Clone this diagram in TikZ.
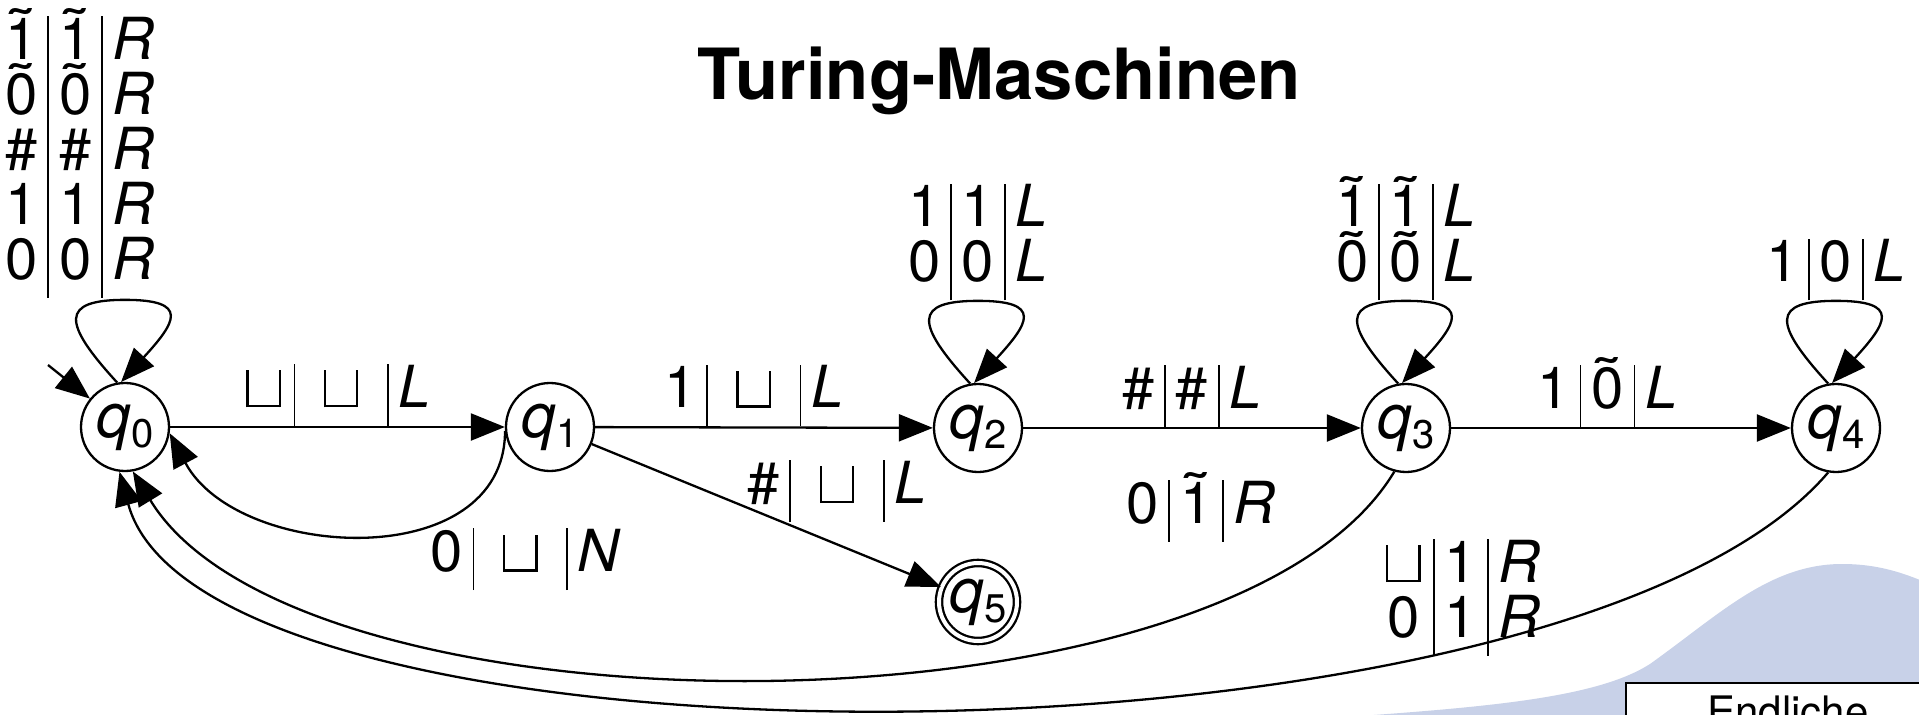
\documentclass[tikz,border=0pt]{standalone}
\usepackage{fontspec}
\usepackage{graphicx}
\setmainfont{TeX Gyre Heros}
\usetikzlibrary{arrows.meta}
\definecolor{wavecol}{RGB}{200,209,232}
\newsavebox\tlbox
\newcommand\tl[1]{\sbox\tlbox{#1}\rlap{\hbox to\wd\tlbox{\hss\smash{\raisebox{0.17em}{\scalebox{1.3}[1]{\char"02DC}}}\hss}}\usebox\tlbox}
\newcommand\blk{\kern0.04em\rule{0.04em}{0.64em}\rule{0.52em}{0.04em}\rule{0.04em}{0.64em}\kern0.04em}
\newcommand\mblk{\kern0.28em\blk\kern0.28em}
\newcommand\qq[1]{\textit{q}\raisebox{-5pt}{\fontsize{20}{20}\selectfont #1}}
\newcommand\lblfont{\fontsize{29}{30.9}\selectfont}
\newcommand\rs{\\[-3.4pt]}
\newcommand\selfloop[1]{%
  \coordinate (#1top) at ([yshift=41pt]#1.north);
  \draw[edge] (#1.100) .. controls +(-55,60) and +(-65,0) .. (#1top) .. controls +(65,0) and +(55,60) .. (#1.95);}
\setlength\tabcolsep{5.4pt}
\setlength\arrayrulewidth{0.8pt}
\begin{document}
\begin{tikzpicture}[x=0.5pt,y=0.5pt,
  state/.style={circle,draw,line width=1.15pt,minimum size=44pt,inner sep=0pt,font=\fontsize{31}{31}\selectfont},
  accept/.style={state,double,double distance=2pt,minimum size=39pt},
  edge/.style={line width=1.15pt,-{Triangle[length=17pt,width=13.5pt]}},
  lbl/.style={inner sep=0pt,font=\lblfont},
]
\useasboundingbox (0,0) rectangle (1919,714);
\fill[white] (0,0) rectangle (1919,714);
\clip (0,0) rectangle (1919,714);

% background wave and box
\fill[wavecol] (1360,-2) .. controls (1500,8) and (1600,18) .. (1650,50)
  .. controls (1720,100) and (1770,150) .. (1842,150)
  .. controls (1880,150) and (1905,140) .. (1925,132) -- (1925,-5) -- cycle;
\draw[line width=1.15pt,fill=white] (1626,31) rectangle (1940,-30);
\node[font=\fontsize{21}{24}\selectfont,anchor=base] (endl) at (1788,-12) {Endliche};

% title
\node[font=\fontsize{35.3}{40}\selectfont\bfseries,anchor=base] (title) at (999,614) {Turing-Maschinen};

% states
\node[state] (q0) at (125,287) {\qq{0}};
\node[state] (q1) at (550,287) {\qq{1}};
\node[state] (q2) at (978,286) {\qq{2}};
\node[state] (q3) at (1406,286) {\qq{3}};
\node[state] (q4) at (1836,286) {\qq{4}};
\node[accept] (q5) at (978,112) {\qq{5}};

% initial arrow
\coordinate (init) at (48,349);
\draw[edge] (init) -- (q0.141);

% loops
\selfloop{q0}
\selfloop{q2}
\selfloop{q3}
\selfloop{q4}
\node[lbl,anchor=south east] (lq0) at (166,416) {\begin{tabular}{c|c|c}\tl{1}&\tl{1}&\textit{R}\rs \tl{0}&\tl{0}&\textit{R}\rs \#&\#&\textit{R}\rs 1&1&\textit{R}\rs 0&0&\textit{R}\end{tabular}};
\node[lbl,anchor=south] (lq2) at (q2top) {\begin{tabular}{c|c|c}1&1&\textit{L}\rs 0&0&\textit{L}\end{tabular}};
\node[lbl,anchor=south] (lq3) at (q3top) {\begin{tabular}{c|c|c}\tl{1}&\tl{1}&\textit{L}\rs \tl{0}&\tl{0}&\textit{L}\end{tabular}};
\node[lbl,anchor=south] (lq4) at (q4top) {\begin{tabular}{c|c|c}1&0&\textit{L}\end{tabular}};

% straight edges
\draw[edge] (q0) -- node[lbl,anchor=south] (l01) {\begin{tabular}{c|c|c}\blk&\mblk&\textit{L}\end{tabular}} (q1);
\draw[edge] (q1) -- node[lbl,anchor=south,pos=0.47] (l12) {\begin{tabular}{c|c|c}1&\mblk&\textit{L}\end{tabular}} (q2);
\draw[edge] (q2) -- node[lbl,anchor=south] (l23) {\begin{tabular}{c|c|c}\#&\#&\textit{L}\end{tabular}} (q3);
\draw[edge] (q3) -- node[lbl,anchor=south,pos=0.46] (l34) {\begin{tabular}{c|c|c}1&\tl{0}&\textit{L}\end{tabular}} (q4);
\draw[edge] (q1) -- (q5);
\node[lbl,anchor=south] (l15) at (837,192) {\begin{tabular}{c|c|c}\#&\mblk&\textit{L}\end{tabular}};

% curved edges back to q0
\draw[edge] (q1.185) to[out=-90,in=-62,looseness=1.1] (q0.-8);
\node[lbl,anchor=north] (l10) at (526,186) {\begin{tabular}{c|c|c}0&\mblk&\textit{N}\end{tabular}};
\draw[edge] (q3.-105) .. controls (1230,-32) and (300,-32) .. (q0.-80);
\node[lbl,anchor=south] (l30) at (1201,172) {\begin{tabular}{c|c|c}0&\tl{1}&\textit{R}\end{tabular}};
\draw[edge] (q4.-100) .. controls (1560,-72) and (205,-72) .. (q0.-97);
\node[lbl,anchor=south] (l40) at (1462,58) {\begin{tabular}{c|c|c}\blk&1&\textit{R}\rs 0&1&\textit{R}\end{tabular}};
\end{tikzpicture}
\end{document}
